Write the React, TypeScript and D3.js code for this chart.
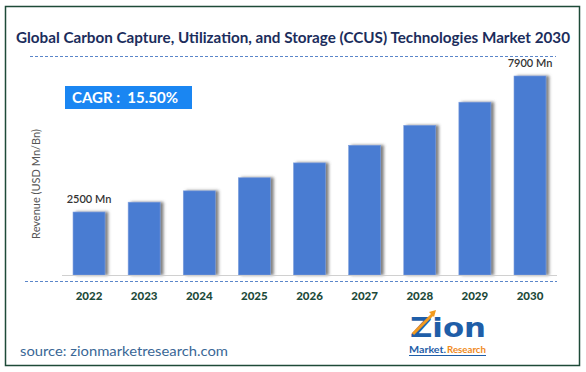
import React, { useRef, useEffect } from "react";
import * as d3 from "d3";

const years = ["2022", "2023", "2024", "2025", "2026", "2027", "2028", "2029", "2030"];
const revenue = [2500, 2890, 3340, 3860, 4450, 5150, 5940, 6860, 7900];
const valueLabels = ["2500 Mn", "", "", "", "", "", "", "", "7900 Mn"];
const cagrText = "CAGR :  15.50%";
const titleText = "Global Carbon Capture, Utilization, and Storage (CCUS) Technologies Market 2030";

const App = () => {
  const svgRef = useRef<SVGSVGElement>(null);

  useEffect(() => {
    const W = 586;
    const H = 372;
    const font = "Lato, 'Open Sans', sans-serif";

    const svg = d3.select(svgRef.current).attr("width", W).attr("height", H);
    svg.selectAll("*").remove();

    // shadow for the bars
    const defs = svg.append("defs");
    const f = defs
      .append("filter")
      .attr("id", "shadow")
      .attr("x", "-20%")
      .attr("y", "-10%")
      .attr("width", "160%")
      .attr("height", "120%");
    f.append("feDropShadow")
      .attr("dx", 3)
      .attr("dy", 0)
      .attr("stdDeviation", 1.6)
      .attr("flood-color", "#555")
      .attr("flood-opacity", 0.75);

    svg.append("rect").attr("width", W).attr("height", H).attr("fill", "#fff");

    // outer frame
    svg
      .append("rect")
      .attr("x", 5.5)
      .attr("y", 6.5)
      .attr("width", 574)
      .attr("height", 359)
      .attr("fill", "none")
      .attr("stroke", "#1e4a38")
      .attr("stroke-width", 1.5);

    // title
    svg
      .append("text")
      .attr("x", 293)
      .attr("y", 43)
      .attr("text-anchor", "middle")
      .attr("font-family", font)
      .attr("font-weight", 700)
      .attr("font-size", 15)
      .attr("fill", "#1b2d5c")
      .attr("textLength", 554)
      .attr("lengthAdjust", "spacingAndGlyphs")
      .text(titleText);

    svg
      .append("line")
      .attr("x1", 30)
      .attr("x2", 556)
      .attr("y1", 56.5)
      .attr("y2", 56.5)
      .attr("stroke", "#5b86c9")
      .attr("stroke-dasharray", "3,2");

    // scales
    const margin = { left: 62, right: 29 };
    const x = d3
      .scaleBand()
      .domain(years)
      .range([margin.left, W - margin.right])
      .paddingInner(0.42)
      .paddingOuter(0.2);

    const y = d3.scaleLinear().domain([0, 7900]).range([275, 76]);

    // bars
    svg
      .selectAll(".bar")
      .data(years)
      .enter()
      .append("rect")
      .attr("class", "bar")
      .attr("x", (d) => x(d))
      .attr("y", (d, i) => y(revenue[i]))
      .attr("width", x.bandwidth())
      .attr("height", (d, i) => y(0) - y(revenue[i]))
      .attr("fill", "#4a7bd2")
      .attr("stroke", "#7d9fdd")
      .attr("stroke-width", 0.6)
      .attr("filter", "url(#shadow)");

    // baseline
    svg
      .append("line")
      .attr("x1", margin.left)
      .attr("x2", 557)
      .attr("y1", 275.5)
      .attr("y2", 275.5)
      .attr("stroke", "#d0d0d0")
      .attr("stroke-width", 1);

    svg
      .append("line")
      .attr("x1", 25)
      .attr("x2", 557)
      .attr("y1", 281.5)
      .attr("y2", 281.5)
      .attr("stroke", "#5b86c9")
      .attr("stroke-dasharray", "3,2");

    // year labels
    const xAxis = svg
      .append("g")
      .attr("transform", "translate(0,281)")
      .call(d3.axisBottom(x).tickSize(0).tickPadding(11));
    xAxis.select(".domain").remove();
    xAxis
      .selectAll("text")
      .attr("font-family", font)
      .attr("font-weight", 900)
      .attr("font-size", 11.5)
      .attr("fill", "#1d4a3a");

    // value labels
    svg
      .selectAll(".vlabel")
      .data(years)
      .enter()
      .append("text")
      .attr("x", (d) => x(d) + x.bandwidth() / 2)
      .attr("y", (d, i) => y(revenue[i]) - 9)
      .attr("text-anchor", "middle")
      .attr("font-family", font)
      .attr("font-weight", 600)
      .attr("font-size", 11)
      .attr("fill", "#333")
      .text((d, i) => valueLabels[i]);

    // y axis title
    svg
      .append("text")
      .attr("transform", "translate(40,184) rotate(-90)")
      .attr("text-anchor", "middle")
      .attr("font-family", font)
      .attr("font-size", 11)
      .attr("fill", "#555")
      .text("Revenue (USD Mn/Bn)");

    // CAGR box
    svg
      .append("rect")
      .attr("x", 65)
      .attr("y", 86)
      .attr("width", 127)
      .attr("height", 23)
      .attr("fill", "#1a86f2");
    svg
      .append("text")
      .attr("x", 72)
      .attr("y", 103)
      .attr("font-family", font)
      .attr("font-weight", 700)
      .attr("font-size", 15)
      .attr("fill", "#fff")
      .style("white-space", "pre")
      .text(cagrText);

    // source
    svg
      .append("text")
      .attr("x", 20)
      .attr("y", 356)
      .attr("font-family", font)
      .attr("font-size", 14)
      .attr("fill", "#3a6796")
      .attr("textLength", 208)
      .attr("lengthAdjust", "spacingAndGlyphs")
      .text("source: zionmarketresearch.com");

    // logo
    const logo = svg.append("g");
    logo
      .append("text")
      .attr("x", 410)
      .attr("y", 337)
      .attr("font-family", "'DejaVu Sans', sans-serif")
      .attr("font-weight", 700)
      .attr("font-size", 26)
      .attr("fill", "#1f5ea8")
      .attr("textLength", 76)
      .attr("lengthAdjust", "spacingAndGlyphs")
      .text("Zion");
    logo
      .append("path")
      .attr("d", "M413,334 L433,314")
      .attr("stroke", "#f39a1e")
      .attr("stroke-width", 3);
    logo
      .append("path")
      .attr("d", "M429,312 L436,310 L434,317 Z")
      .attr("fill", "#f39a1e");
    logo
      .append("text")
      .attr("x", 409)
      .attr("y", 353)
      .attr("font-family", font)
      .attr("font-weight", 700)
      .attr("font-size", 9)
      .attr("fill", "#1f5ea8")
      .attr("textLength", 37)
      .attr("lengthAdjust", "spacingAndGlyphs")
      .text("Market.");
    logo
      .append("text")
      .attr("x", 447)
      .attr("y", 353)
      .attr("font-family", font)
      .attr("font-weight", 700)
      .attr("font-size", 9)
      .attr("fill", "#f08a1c")
      .attr("textLength", 39)
      .attr("lengthAdjust", "spacingAndGlyphs")
      .text("Research");
    logo
      .append("line")
      .attr("x1", 409)
      .attr("x2", 486)
      .attr("y1", 355.5)
      .attr("y2", 355.5)
      .attr("stroke", "#1f5ea8")
      .attr("stroke-width", 1);
  }, []);

  return <svg ref={svgRef} style={{ position: "absolute", left: 0, top: 0 }}></svg>;
};

export default App;
